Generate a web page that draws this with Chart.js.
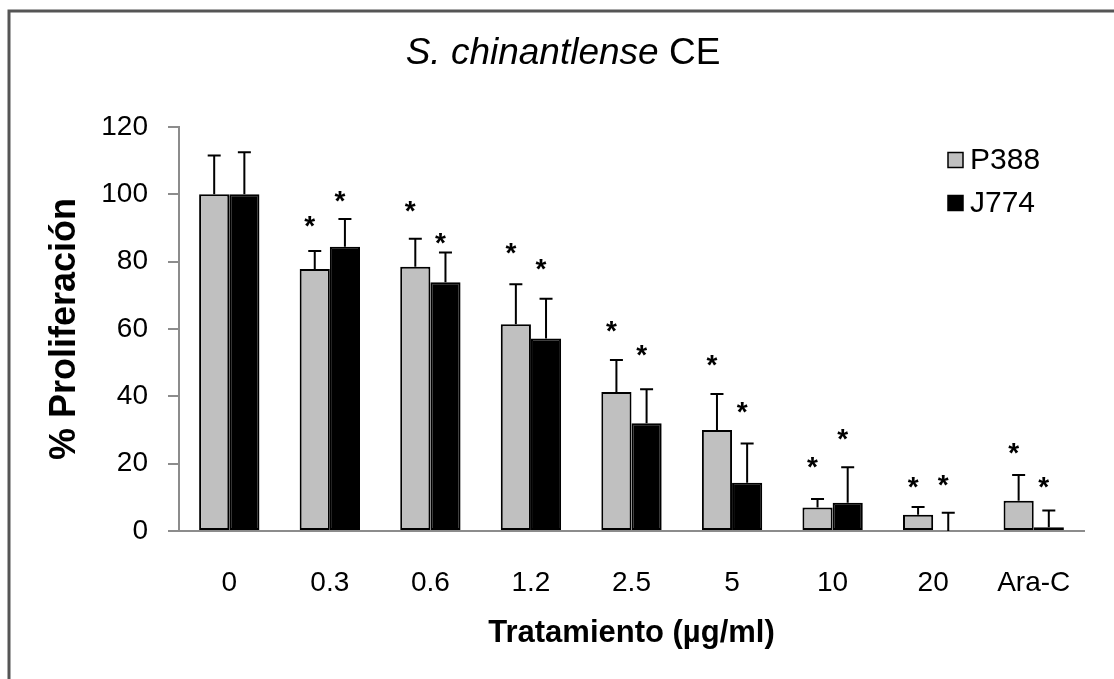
<!DOCTYPE html>
<html>
<head>
<meta charset="utf-8">
<script src="https://cdn.jsdelivr.net/npm/chart.js@4.4.1/dist/chart.umd.min.js"></script>
<style>
  html, body { margin: 0; padding: 0; background: #ffffff; }
  canvas { display: block; }
</style>
</head>
<body>
<canvas id="c" width="1114" height="679"></canvas>
<script>
// ---- data ----
const categories = ['0', '0.3', '0.6', '1.2', '2.5', '5', '10', '20', 'Ara-C'];
const seriesNames = ['P388', 'J774'];
const p388 = [100, 77.8, 78.5, 61.4, 41.3, 30, 7, 4.8, 9];
const j774 = [100, 84.4, 73.9, 57.2, 32, 14.3, 8.4, 0, 1.1];
const p388Err = [11.5, 5.4, 8.3, 11.9, 9.5, 10.7, 2.5, 2.3, 7.6];
const j774Err = [12.5, 8.3, 8.8, 11.8, 10.1, 11.7, 10.5, 5.4, 5];
// height (in % units) at which each significance asterisk sits
const p388Star = [null, 92.7, 97.4, 84.9, 61.5, 51.4, 21.1, 15.4, 25.3];
const j774Star = [null, 100.4, 87.9, 80.2, 54.4, 37.7, 29.5, 16, 15.4];
const yTicks = [0, 20, 40, 60, 80, 100, 120];
const titleItalic = 'S. chinantlense';
const titleNormal = ' CE';
const xTitle = 'Tratamiento (µg/ml)';
const yTitle = '% Proliferación';

const FAMILY = "'Liberation Sans', Arial, sans-serif";
const errors = [p388Err, j774Err];
const stars = [p388Star, j774Star];

const decorPlugin = {
  id: 'decor',
  beforeDraw(chart) {
    const ctx = chart.ctx;
    ctx.save();
    ctx.fillStyle = '#ffffff';
    ctx.fillRect(0, 0, chart.width, chart.height);
    ctx.strokeStyle = '#555555';
    ctx.lineWidth = 3;
    ctx.beginPath();
    ctx.moveTo(9, chart.height);
    ctx.lineTo(9, 11);
    ctx.lineTo(chart.width, 11);
    ctx.stroke();
    ctx.restore();
  },
  afterDatasetsDraw(chart) {
    const ctx = chart.ctx;
    const y = chart.scales.y;
    ctx.save();
    chart.data.datasets.forEach((ds, di) => {
      const meta = chart.getDatasetMeta(di);
      meta.data.forEach((bar, i) => {
        const v = ds.data[i];
        const e = errors[di][i];
        const x = bar.x;
        const y0 = y.getPixelForValue(v);
        const y1 = y.getPixelForValue(v + e);
        ctx.strokeStyle = '#000';
        ctx.lineWidth = 2;
        ctx.beginPath();
        ctx.moveTo(x, y0);
        ctx.lineTo(x, y1);
        ctx.moveTo(x - 6.5, y1);
        ctx.lineTo(x + 6.5, y1);
        ctx.stroke();
        const s = stars[di][i];
        if (s !== null) {
          const fs = 28;
          ctx.fillStyle = '#000';
          ctx.font = 'bold ' + fs + 'px ' + FAMILY;
          ctx.textAlign = 'center';
          ctx.textBaseline = 'alphabetic';
          ctx.fillText('*', x - 5, y.getPixelForValue(s) + 0.59 * fs);
        }
      });
    });
    ctx.restore();
  },
  afterDraw(chart) {
    const ctx = chart.ctx;
    ctx.save();
    // title
    ctx.fillStyle = '#000';
    ctx.textBaseline = 'alphabetic';
    ctx.textAlign = 'left';
    const fIt = 'italic 37px ' + FAMILY;
    const fNo = '37px ' + FAMILY;
    ctx.font = fIt;
    const w1 = ctx.measureText(titleItalic).width;
    ctx.font = fNo;
    const w2 = ctx.measureText(titleNormal).width;
    const x0 = 563 - (w1 + w2) / 2;
    ctx.font = fIt;
    ctx.fillText(titleItalic, x0, 64);
    ctx.font = fNo;
    ctx.fillText(titleNormal, x0 + w1, 64);
    // legend
    ctx.font = '30px ' + FAMILY;
    ctx.textBaseline = 'middle';
    const legY = [160, 203];
    chart.data.datasets.forEach((ds, di) => {
      const cy = legY[di];
      ctx.fillStyle = ds.backgroundColor;
      ctx.fillRect(948, cy - 7.5, 15, 15);
      ctx.strokeStyle = '#000';
      ctx.lineWidth = 1.5;
      ctx.strokeRect(948, cy - 7.5, 15, 15);
      ctx.fillStyle = '#000';
      ctx.fillText(ds.label, 970, cy + 1);
    });
    ctx.restore();
  }
};

new Chart(document.getElementById('c'), {
  type: 'bar',
  data: {
    labels: categories,
    datasets: [
      { label: seriesNames[0], data: p388, backgroundColor: '#c0c0c0', borderColor: '#000', borderWidth: 2, borderSkipped: false, categoryPercentage: 0.6, barPercentage: 1 },
      { label: seriesNames[1], data: j774, backgroundColor: '#000000', borderColor: '#000', borderWidth: 2, borderSkipped: false, categoryPercentage: 0.6, barPercentage: 1 }
    ]
  },
  options: {
    responsive: false,
    animation: false,
    devicePixelRatio: 1,
    layout: { padding: { top: 127, right: 30, left: 0, bottom: 0 } },
    plugins: { legend: { display: false }, title: { display: false }, tooltip: { enabled: false } },
    scales: {
      x: {
        grid: { display: false },
        border: { display: true, color: '#8c8c8c', width: 2 },
        ticks: { font: { size: 28, family: FAMILY }, color: '#000', padding: 27, maxRotation: 0, autoSkip: false },
        title: { display: true, text: xTitle, color: '#000', font: { size: 31, weight: 'bold', family: FAMILY }, padding: { top: 0, bottom: 27 } },
        afterFit(s) { s.height = 148; }
      },
      y: {
        min: 0, max: 120,
        afterBuildTicks(s) { s.ticks = yTicks.map(v => ({ value: v })); },
        ticks: { font: { size: 28, family: FAMILY }, color: '#000', padding: 20 },
        grid: { drawOnChartArea: false, drawTicks: true, tickLength: 11, color: '#8c8c8c', lineWidth: 2 },
        border: { display: true, color: '#8c8c8c', width: 2 },
        title: { display: true, text: yTitle, color: '#000', font: { size: 36, weight: 'bold', family: FAMILY }, padding: { top: 43, bottom: 0 } },
        afterFit(s) { s.width = 179; }
      }
    }
  },
  plugins: [decorPlugin]
});
</script>
</body>
</html>
